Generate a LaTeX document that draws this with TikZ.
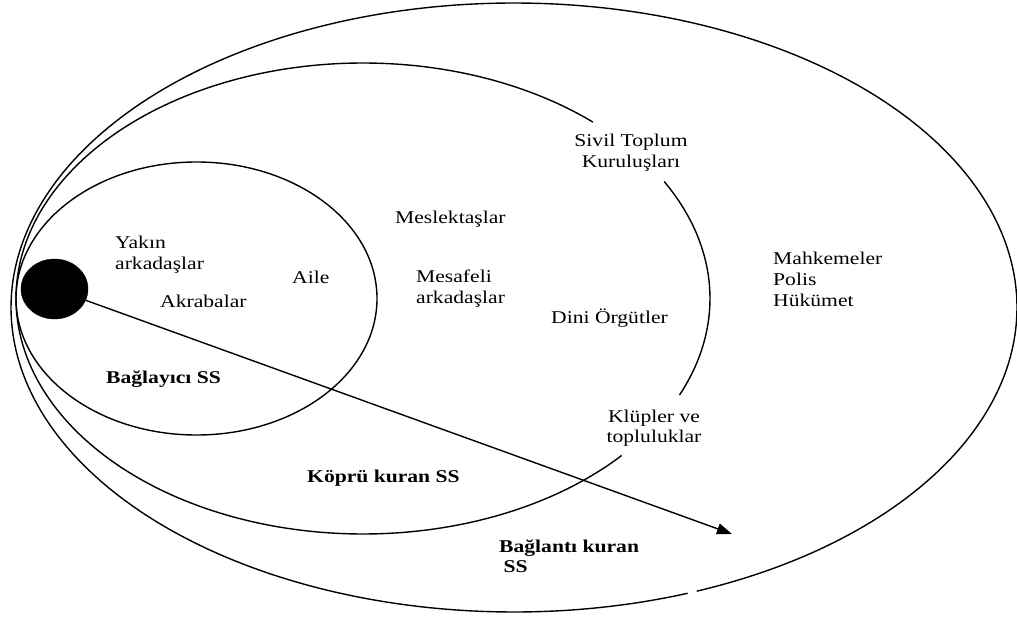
\documentclass[tikz,border=0pt]{standalone}
\usepackage{fontspec}
\setmainfont{Liberation Serif}[FakeStretch=1.2]
\usetikzlibrary{shapes.geometric,arrows.meta}
\tikzset{
  ring/.style={line width=1.4bp, black},
  lbl/.style={inner sep=0pt, anchor=base west, font=\fontsize{18bp}{20.5bp}\selectfont, text=black},
  blbl/.style={lbl, font=\fontsize{18bp}{20.5bp}\selectfont\bfseries},
  egostyle/.style={ellipse, fill=black, draw=black, minimum width=67bp, minimum height=60bp, inner sep=0pt},
  arr/.style={line width=1.4bp, -{Triangle[length=15bp,width=11bp]}}
}
\newcommand{\lines}[2]{\begin{tabular}[t]{@{}#1@{}}#2\end{tabular}}
\begin{document}
\begin{tikzpicture}[x=1bp,y=-1bp]
\path[fill=white, use as bounding box] (0,0) rectangle (1017,619);
% outer ellipse (with a small gap at the bottom)
\draw[ring] plot[domain=69.8:428.7, samples=300, smooth] ({514+503*cos(\x)},{307.5+304.5*sin(\x)});
% middle ellipse (gaps for two labels)
\draw[ring] plot[domain=41.8:311.5, samples=250, smooth] ({363+347*cos(\x)},{298.5+235.5*sin(\x)});
\draw[ring] plot[domain=-29.8:24.2, samples=60, smooth] ({363+347*cos(\x)},{298.5+235.5*sin(\x)});
% inner ellipse
\draw[ring] (196.5,298.5) ellipse [x radius=180.5bp, y radius=136.5bp];
% ego
\node[egostyle] (ego) at (54.5,289) {};
\coordinate (tip) at (732,534);
\draw[arr] (ego) -- (tip);
% labels
\node[lbl] (yakin) at (115,249) {\lines{l}{Yakın\\arkadaşlar}};
\node[lbl] (aile) at (292,284) {Aile};
\node[lbl] (akraba) at (160,307) {Akrabalar};
\node[blbl] (baglayici) at (106,383) {Bağlayıcı SS};
\node[lbl] (meslek) at (395,224) {Meslektaşlar};
\node[lbl] (mesafeli) at (416,283) {\lines{l}{Mesafeli\\arkadaşlar}};
\node[lbl, anchor=base] (sivil) at (631,147) {\lines{c}{Sivil Toplum\\Kuruluşları}};
\node[lbl] (dini) at (551,323) {Dini Örgütler};
\node[lbl, anchor=base] (klup) at (654,422) {\lines{c}{Klüpler ve\\topluluklar}};
\node[lbl] (mahkeme) at (773,265) {\lines{l}{Mahkemeler\\Polis\\Hükümet}};
\node[blbl] (kopru) at (307,482) {Köprü kuran SS};
\node[blbl] (baglanti) at (499,552) {\lines{l}{Bağlantı kuran\\\hspace*{0.25em}SS}};
\end{tikzpicture}
\end{document}
